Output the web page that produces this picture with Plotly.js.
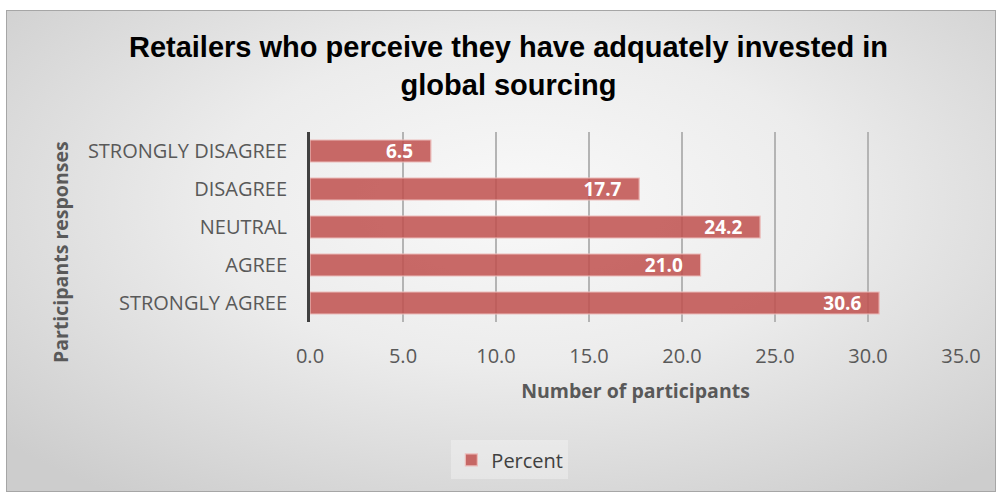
<!DOCTYPE html>
<html>
<head>
<meta charset="utf-8">
<script src="https://cdn.plot.ly/plotly-3.0.1.min.js"></script>
<style>
  html, body { margin: 0; padding: 0; background: #ffffff; }
  #frame {
    position: absolute; left: 6px; top: 10px; width: 988px; height: 480px;
    border: 1px solid #a6a6a6;
    background: radial-gradient(ellipse 70% 75% at 52% 40%, #f9f9f9 0%, #ececec 45%, #cdcdcd 100%);
  }
  #chart { position: absolute; left: -7px; top: -11px; width: 1001px; height: 493px; }
</style>
</head>
<body>
<div id="frame"><div id="chart"></div></div>
<script>
const categories = ["STRONGLY AGREE", "AGREE", "NEUTRAL", "DISAGREE", "STRONGLY DISAGREE"];
const percentValues = [30.6, 21.0, 24.2, 17.7, 6.5];
const seriesName = "Percent";
const xTickVals = [0, 5, 10, 15, 20, 25, 30, 35];

const pad = "\u00a0\u00a0\u00a0";
const trace = {
  type: "bar",
  orientation: "h",
  name: seriesName,
  y: categories,
  x: percentValues,
  text: percentValues.map(v => v.toFixed(1) + pad),
  textposition: "inside",
  insidetextanchor: "end",
  constraintext: "none",
  textfont: { family: "Open Sans, sans-serif", size: 19, color: "#ffffff", weight: "bold" },
  marker: { color: "rgba(192,80,77,0.85)", line: { color: "#ecbcba", width: 1.2 } },
  hoverinfo: "x+y",
  showlegend: true
};

const layout = {
  width: 1001, height: 493,
  paper_bgcolor: "rgba(0,0,0,0)",
  plot_bgcolor: "rgba(0,0,0,0)",
  margin: { l: 310, r: 40, t: 132, b: 171, pad: 0 },
  bargap: 0.42,
  title: {
    text: "<b>Retailers who perceive they have adquately invested in<br>global sourcing</b>",
    font: { family: "Liberation Sans, Arial, sans-serif", size: 29, color: "#000000" },
    x: 0.508, xanchor: "center", y: 0.884, yanchor: "middle"
  },
  xaxis: {
    range: [0, 35],
    tickvals: xTickVals,
    ticktext: xTickVals.map(v => v.toFixed(1)),
    showgrid: true, gridcolor: "#b4b4b4", gridwidth: 1.3,
    zeroline: false, showline: false,
    ticks: "", ticklabelstandoff: 20,
    tickfont: { family: "Open Sans, sans-serif", size: 20, color: "#595959" },
    title: { text: "<b>Number of participants</b>", standoff: 16,
      font: { family: "Open Sans, sans-serif", size: 19.5, color: "#595959" } },
    fixedrange: true
  },
  yaxis: {
    showgrid: false, zeroline: false,
    showline: true, linecolor: "#404040", linewidth: 3,
    ticks: "", ticklabelstandoff: 16,
    tickfont: { family: "Open Sans, sans-serif", size: 20, color: "#595959" },
    fixedrange: true
  },
  annotations: [{
    text: "<b>Participants responses</b>",
    textangle: -90,
    xref: "paper", yref: "paper",
    x: (60 - 310) / 651, y: (322 - 252) / 190,
    xanchor: "center", yanchor: "middle",
    showarrow: false,
    font: { family: "Open Sans, sans-serif", size: 19.5, color: "#595959" }
  }],
  legend: {
    orientation: "h",
    x: 0.307, xanchor: "center",
    y: -0.726, yanchor: "middle",
    bgcolor: "rgba(255,255,255,0.3)",
    font: { family: "Open Sans, sans-serif", size: 20, color: "#404040" },
    itemwidth: 30
  }
};

Plotly.newPlot("chart", [trace], layout, { displayModeBar: false, staticPlot: true });
</script>
</body>
</html>
